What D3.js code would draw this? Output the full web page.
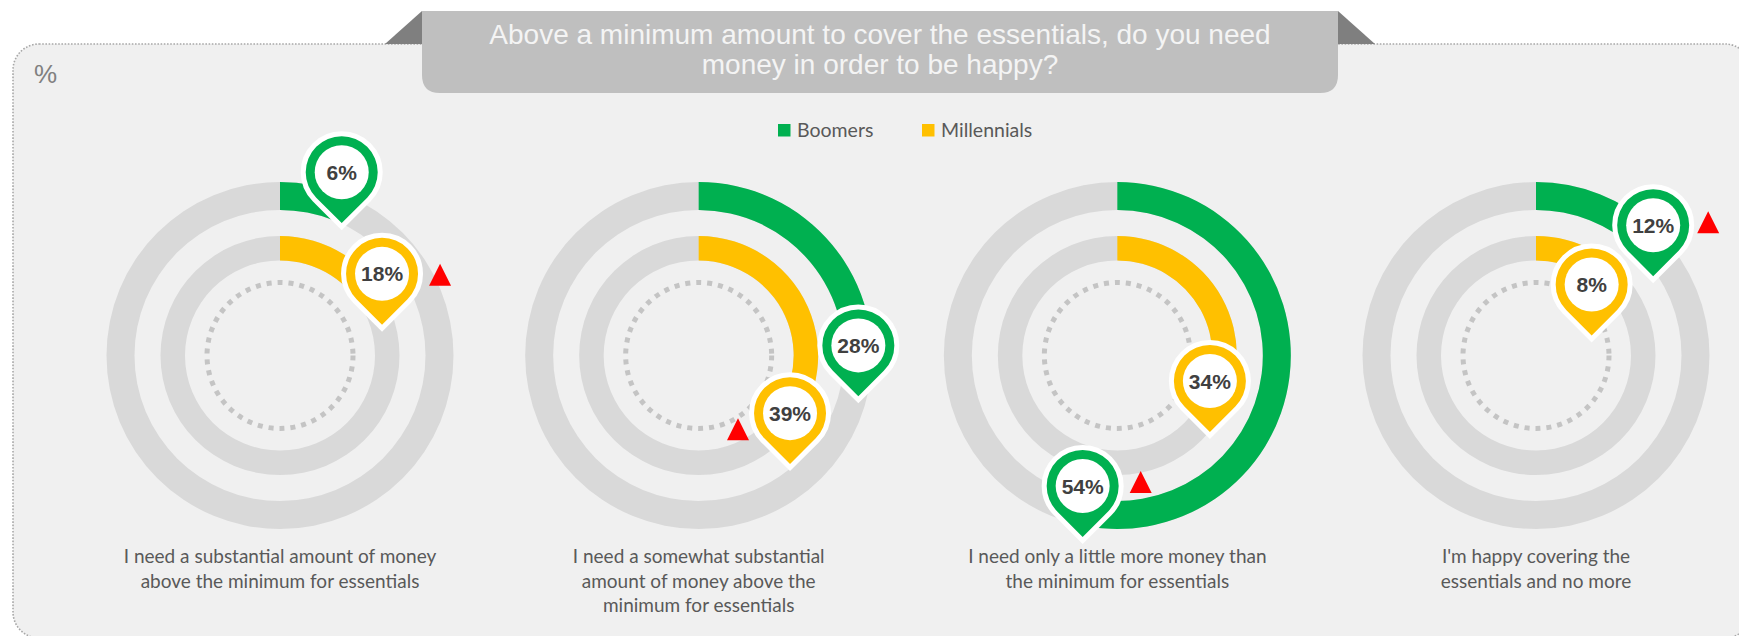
<!DOCTYPE html>
<html>
<head>
<meta charset="utf-8">
<script src="https://cdn.jsdelivr.net/npm/d3@7"></script>
<style>
  html, body { margin: 0; padding: 0; background: #ffffff; }
  svg { display: block; }
</style>
</head>
<body>
<svg id="chart" width="1739" height="636"></svg>
<script>
// ---- data ----
const titleLines = ["Above a minimum amount to cover the essentials, do you need", "money in order to be happy?"];
const unitLabel = "%";
const seriesNames = ["Boomers", "Millennials"];
const categories = [
  "I need a substantial amount of money above the minimum for essentials",
  "I need a somewhat substantial amount of money above the minimum for essentials",
  "I need only a little more money than the minimum for essentials",
  "I'm happy covering the essentials and no more"
];
const categoryLines = [
  ["I need a substantial amount of money", "above the minimum for essentials"],
  ["I need a somewhat substantial", "amount of money above the", "minimum for essentials"],
  ["I need only a little more money than", "the minimum for essentials"],
  ["I'm happy covering the", "essentials and no more"]
];
const boomers = [6, 28, 54, 12];
const millennials = [18, 39, 34, 8];
// series flagged as significantly higher in each category
const flaggedSeries = ["Millennials", "Millennials", "Boomers", "Boomers"];

// ---- layout ----
const W = 1739, H = 636;
const cy = 355.5;
const ringRadii = { Boomers: [145.5, 173.5], Millennials: [95, 119.5] };
// label pins sit next to the end of each arc; small hand nudges keep them apart
const pinNudge = {
  Boomers:     [[3, -35], [3, -40], [5, -24], [8, -14]],
  Millennials: [[5, -36], [23, -25], [2, -32], [4, 23]]
};
// red flag position relative to its pin
const flagOffset = [[58, 12], [-52, 27], [58, 7], [55, 8]];

const svg = d3.select("#chart");

const color = d3.scaleOrdinal().domain(seriesNames).range(["#00b050", "#ffc000"]);
const x = d3.scalePoint().domain(categories).range([280, 1536]);
const angle = d3.scaleLinear().domain([0, 100]).range([0, 2 * Math.PI]);
const valuesBySeries = { Boomers: boomers, Millennials: millennials };

// ---- panel ----
svg.append("rect")
  .attr("x", 13).attr("y", 44)
  .attr("width", 1738).attr("height", 594)
  .attr("rx", 26).attr("ry", 26)
  .attr("fill", "#f0f0f0")
  .attr("stroke", "#a8a8a8")
  .attr("stroke-width", 1.6)
  .attr("stroke-dasharray", "1.6 1.6");

// ---- title banner ----
const bx0 = 422, bx1 = 1338, by0 = 11, by1 = 93, br = 18;
svg.append("path")
  .attr("d", `M${bx0 - 37},44 L${bx0},${by0} L${bx0},44 Z`)
  .attr("fill", "#7f7f7f");
svg.append("path")
  .attr("d", `M${bx1 + 37},44 L${bx1},${by0} L${bx1},44 Z`)
  .attr("fill", "#7f7f7f");
svg.append("path")
  .attr("d", `M${bx0},${by0} L${bx1},${by0} L${bx1},${by1 - br} Q${bx1},${by1} ${bx1 - br},${by1} L${bx0 + br},${by1} Q${bx0},${by1} ${bx0},${by1 - br} Z`)
  .attr("fill", "#bfbfbf");
svg.append("text")
  .attr("x", (bx0 + bx1) / 2)
  .attr("text-anchor", "middle")
  .attr("font-family", "'Liberation Sans', Arial, sans-serif")
  .attr("font-size", 28)
  .attr("fill", "#f4f4f4")
  .selectAll("tspan")
  .data(titleLines)
  .join("tspan")
  .attr("x", (bx0 + bx1) / 2)
  .attr("y", (d, i) => 43.5 + i * 30.5)
  .text(d => d);

svg.append("text")
  .attr("x", 34).attr("y", 83)
  .attr("font-family", "'Liberation Sans', Arial, sans-serif")
  .attr("font-size", 26)
  .attr("fill", "#808080")
  .text(unitLabel);

// ---- legend ----
const legendX = d3.scaleOrdinal().domain(seriesNames).range([778, 922]);
const legend = svg.append("g").selectAll("g")
  .data(seriesNames)
  .join("g")
  .attr("transform", d => `translate(${legendX(d)},124)`);
legend.append("rect")
  .attr("width", 12.5).attr("height", 12.5)
  .attr("fill", d => color(d));
legend.append("text")
  .attr("x", 19).attr("y", 12.7)
  .attr("font-family", "Lato, 'Open Sans', sans-serif")
  .attr("font-size", 19.5)
  .attr("fill", "#595959")
  .text(d => d);

// ---- rings ----
const charts = svg.append("g").selectAll("g")
  .data(categories)
  .join("g")
  .attr("transform", d => `translate(${x(d)},${cy})`);

seriesNames.forEach(s => {
  const [r0, r1] = ringRadii[s];
  const arc = d3.arc().innerRadius(r0).outerRadius(r1).startAngle(0);
  charts.append("path")
    .attr("d", arc({ endAngle: 2 * Math.PI }))
    .attr("fill", "#d9d9d9");
  charts.append("path")
    .attr("d", (d, i) => arc({ endAngle: angle(valuesBySeries[s][i]) }))
    .attr("fill", color(s));
});

charts.append("circle")
  .attr("r", 73)
  .attr("fill", "none")
  .attr("stroke", "#c4c4c4")
  .attr("stroke-width", 5)
  .attr("stroke-dasharray", "5 6");

// ---- category labels ----
charts.append("text")
  .attr("text-anchor", "middle")
  .attr("font-family", "Lato, 'Open Sans', sans-serif")
  .attr("font-size", 19)
  .attr("fill", "#595959")
  .selectAll("tspan")
  .data((d, i) => categoryLines[i])
  .join("tspan")
  .attr("x", 0)
  .attr("y", (d, j) => 563 - cy + j * 24.5)
  .text(d => d);

// ---- pins ----
const R = 36, tipD = R * Math.SQRT2, tp = R / Math.SQRT2;
const pinPath = `M0,${tipD} L${-tp},${tp} A${R},${R} 0 1 1 ${tp},${tp} Z`;

function pinCenter(s, i) {
  const [r0, r1] = ringRadii[s];
  const rm = (r0 + r1) / 2;
  const a = angle(valuesBySeries[s][i]);
  const [nx, ny] = pinNudge[s][i];
  return [rm * Math.sin(a) + nx, -rm * Math.cos(a) + ny];
}

seriesNames.forEach(s => {
  const pins = charts.append("g")
    .attr("transform", (d, i) => `translate(${pinCenter(s, i)})`);
  pins.append("path")
    .attr("d", pinPath)
    .attr("fill", color(s))
    .attr("stroke", "#ffffff")
    .attr("stroke-width", 10)
    .attr("paint-order", "stroke");
  pins.append("circle")
    .attr("r", 27)
    .attr("fill", "#ffffff");
  pins.append("text")
    .attr("text-anchor", "middle")
    .attr("dy", "0.36em")
    .attr("font-family", "'Liberation Sans', Arial, sans-serif")
    .attr("font-weight", "bold")
    .attr("font-size", 21)
    .attr("fill", "#404040")
    .text((d, i) => valuesBySeries[s][i] + "%");
});

// ---- significance flags ----
charts.append("path")
  .attr("transform", (d, i) => {
    const [px, py] = pinCenter(flaggedSeries[i], i);
    const [ox, oy] = flagOffset[i];
    return `translate(${px + ox},${py + oy})`;
  })
  .attr("d", "M-11,0 L0,-22 L11,0 Z")
  .attr("fill", "#ff0000");
</script>
</body>
</html>
